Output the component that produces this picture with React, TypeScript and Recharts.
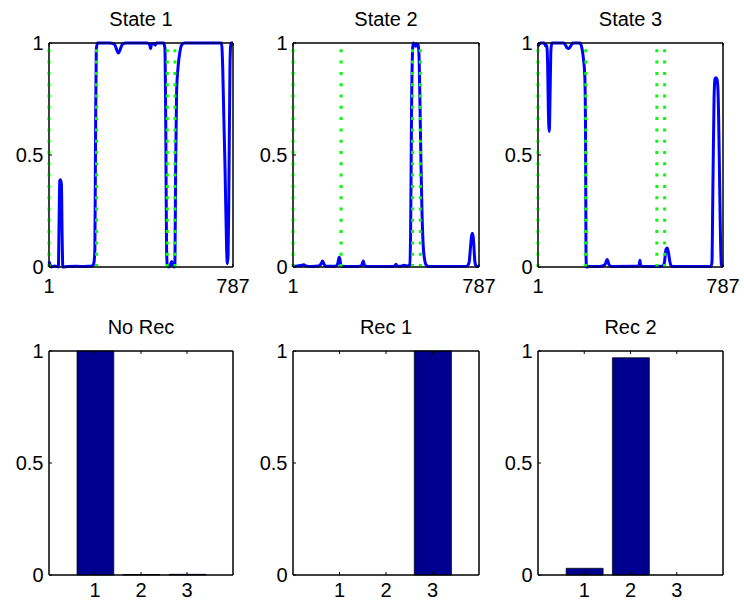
import React from 'react';
import { LineChart, Line, BarChart, Bar, XAxis, YAxis, ReferenceLine, ReferenceArea } from 'recharts';

// state posteriors: [frame, probability]
const state1: [number, number][] = [
  [1, 0.025], [8, 0.005], [12, 0], [25, 0.005], [35, 0.002], [41, 0], [44, 0.2], [47, 0.385],
  [50, 0.39], [54, 0.37], [57, 0.15], [60, 0], [80, 0.002], [120, 0.003], [150, 0.002],
  [185, 0.004], [193, 0.02], [197, 0.08], [200, 0.6], [203, 0.97], [208, 1], [260, 1],
  [280, 0.995], [292, 0.965], [297, 0.955], [303, 0.965], [315, 0.995], [330, 1], [420, 1],
  [430, 0.995], [435, 0.975], [439, 0.995], [450, 0.998], [455, 0.99], [460, 1], [490, 1],
  [496, 0.98], [500, 0.6], [503, 0.1], [506, 0.01], [512, 0], [520, 0.01], [525, 0.025],
  [530, 0.01], [536, 0], [539, 0.02], [542, 0.45], [546, 0.78], [553, 0.9], [561, 0.965],
  [570, 0.995], [580, 1], [738, 1], [743, 0.89], [748, 0.66], [753, 0.44], [760, 0.07],
  [763, 0.015], [766, 0.05], [769, 0.29], [774, 0.89], [778, 1], [787, 1],
];

const state2: [number, number][] = [
  [1, 0.003], [20, 0.005], [40, 0.008], [47, 0.01], [55, 0.005], [80, 0.002], [110, 0.004],
  [120, 0.015], [126, 0.027], [132, 0.012], [140, 0.003], [180, 0.003], [190, 0.015],
  [196, 0.043], [200, 0.03], [203, 0.005], [215, 0.002], [260, 0.002], [290, 0.005],
  [298, 0.027], [304, 0.005], [330, 0.002], [420, 0.002], [432, 0.006], [436, 0.012],
  [440, 0.004], [455, 0.003], [470, 0.008], [485, 0.004], [494, 0.01], [498, 0.15],
  [502, 0.7], [507, 0.98], [510, 1], [515, 0.995], [520, 0.985], [525, 0.995], [530, 0.99],
  [534, 0.93], [538, 0.7], [542, 0.45], [546, 0.25], [551, 0.1], [557, 0.035], [563, 0.01],
  [575, 0.002], [735, 0.003], [745, 0.02], [752, 0.1], [757, 0.15], [761, 0.15], [765, 0.1],
  [770, 0.02], [776, 0.003], [787, 0.002],
];

const state3: [number, number][] = [
  [1, 0.985], [6, 0.995], [12, 1], [28, 1], [34, 0.985], [38, 0.99], [42, 0.9], [45, 0.7],
  [49, 0.605], [52, 0.75], [56, 0.97], [60, 1], [110, 1], [118, 0.99], [125, 0.978],
  [130, 0.975], [136, 0.98], [145, 0.995], [150, 1], [179, 1], [187, 0.98], [194, 0.93],
  [200, 0.85], [203, 0.6], [205, 0.05], [207, 0], [220, 0.002], [260, 0.002], [285, 0.01],
  [295, 0.033], [303, 0.01], [312, 0.002], [420, 0.003], [430, 0.005], [434, 0.03],
  [437, 0.005], [460, 0.002], [520, 0.003], [532, 0.005], [538, 0.02], [545, 0.08],
  [550, 0.085], [556, 0.06], [562, 0.02], [570, 0.003], [600, 0.002], [735, 0.002],
  [740, 0.02], [744, 0.35], [749, 0.75], [753, 0.84], [757, 0.845], [762, 0.835],
  [766, 0.78], [771, 0.5], [776, 0.15], [780, 0.01], [787, 0],
];

const boundaries = [1, 204, 506, 539];
const frameDomain = [1, 787];
const frameTicks = [1, 787];
const probTicks = [0, 0.5, 1];

const classes = [1, 2, 3];
const classDomain = [0, 4];
const noRec = [1, 0.002, 0.003];
const rec1 = [0, 0, 1];
const rec2 = [0.03, 0.97, 0];

const FONT = '"Liberation Sans", Arial, Helvetica, sans-serif';
const tickStyle = { fill: '#000', fontSize: 20 };
const black = { stroke: '#000', strokeWidth: 1 };
const PAD_L = 45;
const PAD_T = 14;
const PAD_R = 26;
const PAD_B = 32;
const PLOT_H = 224;

const noLabel = () => <g />;

function Title({ left, width, top, text }: { left: number; width: number; top: number; text: string }) {
  return (
    <div
      style={{
        position: 'absolute',
        left,
        top: top - 34,
        width,
        textAlign: 'center',
        fontSize: 20,
        lineHeight: '20px',
        color: '#000',
      }}
    >
      {text}
    </div>
  );
}

// the four sides of the MATLAB box, ticks pointing inward
function boxAxes(dataKey: string, domain: number[], xTicks: number[], xLabelGap: number) {
  return [
    <XAxis
      key="b"
      type="number"
      dataKey={dataKey}
      domain={domain}
      ticks={xTicks}
      interval={0}
      height={PAD_B}
      axisLine={black}
      tickLine={black}
      tickSize={-3}
      tickMargin={xLabelGap}
      tick={tickStyle}
    />,
    <XAxis
      key="t"
      xAxisId="top"
      orientation="top"
      type="number"
      dataKey={dataKey}
      domain={domain}
      ticks={xTicks}
      interval={0}
      height={1}
      axisLine={black}
      tickLine={black}
      tickSize={-3}
      tick={noLabel}
    />,
    <YAxis
      key="l"
      type="number"
      domain={[0, 1]}
      ticks={probTicks}
      interval={0}
      width={PAD_L}
      axisLine={black}
      tickLine={black}
      tickSize={-3}
      tickMargin={8.5}
      tick={tickStyle}
    />,
    <YAxis
      key="r"
      yAxisId="r"
      orientation="right"
      type="number"
      domain={[0, 1]}
      ticks={probTicks}
      interval={0}
      width={1}
      axisLine={black}
      tickLine={black}
      tickSize={-3}
      tick={noLabel}
    />,
  ];
}

function StatePanel({ left, width, top, title, points }: any) {
  const data = points.map(([x, y]: [number, number]) => ({ x, y }));
  return (
    <>
      <Title left={left} width={width} top={top} text={title} />
      <div style={{ position: 'absolute', left: left - PAD_L, top: top - PAD_T }}>
        <LineChart
          width={PAD_L + width + PAD_R}
          height={PAD_T + PLOT_H + PAD_B}
          data={data}
          margin={{ top: PAD_T - 1, right: PAD_R - 1, bottom: 0, left: 0 }}
        >
          {boxAxes('x', frameDomain, frameTicks, 14.8)}
          <ReferenceArea
            x1={frameDomain[0]}
            x2={frameDomain[1]}
            y1={0}
            y2={1}
            fill="none"
            fillOpacity={0}
            stroke="#000"
            strokeWidth={1}
          />
          <Line
            dataKey="y"
            type="monotone"
            stroke="#0000ff"
            strokeWidth={3}
            dot={false}
            isAnimationActive={false}
          />
          {boundaries.map((b) => (
            <ReferenceLine key={b} x={b} stroke="#00ff00" strokeWidth={3} strokeDasharray="3 8.3" />
          ))}
        </LineChart>
      </div>
    </>
  );
}

function BarPanel({ left, width, top, title, values }: any) {
  const data = classes.map((k, i) => ({ k, v: values[i] }));
  return (
    <>
      <Title left={left} width={width} top={top} text={title} />
      <div style={{ position: 'absolute', left: left - PAD_L, top: top - PAD_T }}>
        <BarChart
          width={PAD_L + width + PAD_R}
          height={PAD_T + PLOT_H + PAD_B}
          data={data}
          margin={{ top: PAD_T - 1, right: PAD_R - 1, bottom: 0, left: 0 }}
        >
          {boxAxes('k', classDomain, classes, 11)}
          <ReferenceArea
            x1={classDomain[0]}
            x2={classDomain[1]}
            y1={0}
            y2={1}
            fill="none"
            fillOpacity={0}
            stroke="#000"
            strokeWidth={1}
          />
          <Bar
            dataKey="v"
            fill="#00008f"
            stroke="#000"
            strokeWidth={0.7}
            barSize={(width * 0.8) / 4}
            isAnimationActive={false}
          />
        </BarChart>
      </div>
    </>
  );
}

const cols = [
  { left: 49, width: 184 },
  { left: 293, width: 186 },
  { left: 538, width: 185 },
];
const TOP_ROW = 43;
const BOTTOM_ROW = 351;

export default function App() {
  return (
    <div
      style={{
        position: 'absolute',
        left: 0,
        top: 0,
        width: 744,
        height: 600,
        overflow: 'hidden',
        background: '#fff',
        fontFamily: FONT,
      }}
    >
      <StatePanel {...cols[0]} top={TOP_ROW} title="State 1" points={state1} />
      <StatePanel {...cols[1]} top={TOP_ROW} title="State 2" points={state2} />
      <StatePanel {...cols[2]} top={TOP_ROW} title="State 3" points={state3} />
      <BarPanel {...cols[0]} top={BOTTOM_ROW} title="No Rec" values={noRec} />
      <BarPanel {...cols[1]} top={BOTTOM_ROW} title="Rec 1" values={rec1} />
      <BarPanel {...cols[2]} top={BOTTOM_ROW} title="Rec 2" values={rec2} />
    </div>
  );
}
